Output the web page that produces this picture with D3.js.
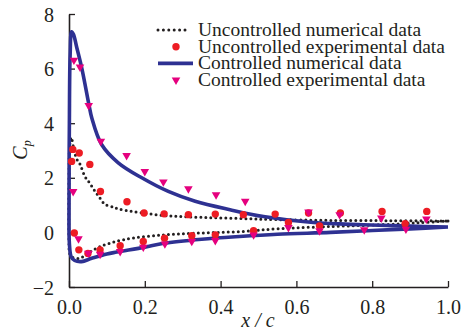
<!DOCTYPE html>
<html>
<head>
<meta charset="utf-8">
<script src="https://cdn.jsdelivr.net/npm/d3@7"></script>
<style>
  html, body { margin: 0; padding: 0; background: #fff; }
  svg { display: block; }
  text { font-family: "Liberation Serif", "Times New Roman", serif; fill: #231f20; }
</style>
</head>
<body>
<svg id="chart" width="471" height="335"></svg>
<script>
// Pressure coefficient along the chord, [x/c, Cp]
const uncNumUpper = [[0.0,0.5],[0.0,2.0],[0.002,3.2],[0.006,3.48],[0.012,3.1],[0.02,2.7],[0.029,2.5],[0.042,2.05],[0.055,1.8],[0.069,1.5],[0.082,1.25],[0.095,1.03],[0.117,0.92],[0.13,0.86],[0.17,0.76],[0.258,0.61],[0.35,0.55],[0.45,0.51],[0.55,0.47],[0.69,0.44],[0.85,0.43],[1.0,0.42]];
const uncNumLower = [[0.0,-0.3],[0.002,-0.78],[0.01,-0.92],[0.03,-0.94],[0.05,-0.76],[0.082,-0.52],[0.143,-0.27],[0.25,-0.09],[0.35,-0.02],[0.451,0.03],[0.557,0.14],[0.7,0.22],[0.82,0.28],[0.92,0.35],[1.0,0.42]];

const ctrlNumUpper = [[0.001,-0.4],[0.0,1.0],[0.001,4.0],[0.003,6.5],[0.007,7.35],[0.012,7.25],[0.02,6.8],[0.034,6.0],[0.053,4.65],[0.06,4.2],[0.086,3.22],[0.13,2.55],[0.192,2.0],[0.262,1.5],[0.333,1.14],[0.425,0.83],[0.513,0.58],[0.645,0.36],[0.777,0.28],[0.9,0.23],[1.0,0.2]];
const ctrlNumLower = [[0.001,-0.4],[0.006,-0.9],[0.015,-1.03],[0.033,-1.07],[0.06,-0.95],[0.1,-0.79],[0.126,-0.72],[0.2,-0.54],[0.25,-0.4],[0.35,-0.25],[0.45,-0.15],[0.55,-0.07],[0.69,0.0],[0.8,0.07],[0.9,0.13],[1.0,0.2]];

const uncExpUpper = [[0.007,2.6],[0.01,3.04],[0.027,2.91],[0.055,2.49],[0.083,1.5],[0.153,1.12],[0.198,0.71],[0.251,0.68],[0.315,0.65],[0.386,0.67],[0.46,0.65],[0.544,0.67],[0.632,0.71],[0.716,0.71],[0.826,0.77],[0.944,0.77]];
const uncExpLower = [[0.014,-0.02],[0.026,-0.64],[0.05,-0.77],[0.082,-0.64],[0.135,-0.49],[0.196,-0.33],[0.252,-0.21],[0.324,-0.12],[0.386,-0.09],[0.487,0.06],[0.579,0.36],[0.661,0.24],[0.887,0.32]];

const ctrlExpUpper = [[0.011,1.5],[0.013,6.31],[0.029,6.06],[0.052,4.65],[0.084,3.34],[0.152,2.82],[0.2,2.23],[0.249,1.85],[0.315,1.6],[0.388,1.38],[0.465,1.14],[0.632,0.75],[0.714,0.65],[0.824,0.53],[0.943,0.49]];
const ctrlExpLower = [[0.025,-0.23],[0.051,-0.76],[0.082,-0.8],[0.135,-0.7],[0.196,-0.54],[0.253,-0.42],[0.324,-0.33],[0.386,-0.3],[0.487,-0.09],[0.579,0.18],[0.661,0.06],[0.779,0.1],[0.889,0.12]];

const xTicks = [0, 0.2, 0.4, 0.6, 0.8, 1.0];
const yTicks = [-2, 0, 2, 4, 6, 8];
const legendLabels = ["Uncontrolled numerical data", "Uncontrolled experimental data", "Controlled numerical data", "Controlled experimental data"];

const BLUE = "#2e3192", RED = "#ed1c24", MAGENTA = "#e5007e", DARK = "#231f20";

const svg = d3.select("#chart");
const x = d3.scaleLinear().domain([0, 1]).range([69, 448]);
const y = d3.scaleLinear().domain([-2, 8]).range([287, 14]);

// axes: left and bottom only, ticks pointing inward
const xAxis = svg.append("g").attr("transform", `translate(0,${y(-2)})`)
  .call(d3.axisBottom(x).tickValues(xTicks).tickSizeInner(-6).tickSizeOuter(0).tickPadding(13).tickFormat(d3.format(".1f")));
const yAxis = svg.append("g").attr("transform", `translate(${x(0)},0)`)
  .call(d3.axisLeft(y).tickValues(yTicks).tickSizeInner(-6).tickSizeOuter(0).tickPadding(15).tickFormat(d => d < 0 ? "\u2212" + Math.abs(d) : d));
[xAxis, yAxis].forEach(g => {
  g.select(".domain").attr("stroke", DARK).attr("stroke-width", 1.6);
  g.selectAll(".tick line").attr("stroke", DARK).attr("stroke-width", 1.3);
  g.selectAll(".tick text").attr("fill", DARK).style("font-size", "20px").style("font-family", "Liberation Serif, serif");
});
yAxis.selectAll(".tick text").attr("dy", "0.35em");

const loop = (lower, upper) => lower.slice().reverse().concat(upper.slice(1));
const line = d3.line().x(d => x(d[0])).y(d => y(d[1])).curve(d3.curveCatmullRom.alpha(0.5));

// uncontrolled numerical: dotted
svg.append("path").attr("d", line(loop(uncNumLower, uncNumUpper)))
  .attr("fill", "none").attr("stroke", DARK).attr("stroke-width", 3)
  .attr("stroke-linecap", "round").attr("stroke-dasharray", "0 5");

// controlled numerical: thick solid
svg.append("path").attr("d", line(loop(ctrlNumLower, ctrlNumUpper)))
  .attr("fill", "none").attr("stroke", BLUE).attr("stroke-width", 3.6)
  .attr("stroke-linejoin", "round");

// uncontrolled experiments: circles
svg.append("g").selectAll("circle").data(uncExpUpper.concat(uncExpLower)).join("circle")
  .attr("cx", d => x(d[0])).attr("cy", d => y(d[1])).attr("r", 3.7).attr("fill", RED);

// controlled experiments: downward triangles
const tri = d3.symbol().type(d3.symbolTriangle).size(32);
svg.append("g").selectAll("path").data(ctrlExpUpper.concat(ctrlExpLower)).join("path")
  .attr("d", tri).attr("transform", d => `translate(${x(d[0])},${y(d[1])}) rotate(180)`)
  .attr("fill", MAGENTA);

// legend
const lg = svg.append("g");
const rowY = [30, 46.7, 63.4, 80];
lg.append("line").attr("x1", 158).attr("x2", 186).attr("y1", rowY[0]).attr("y2", rowY[0])
  .attr("stroke", DARK).attr("stroke-width", 3).attr("stroke-linecap", "round").attr("stroke-dasharray", "0 5.4");
lg.append("circle").attr("cx", 176).attr("cy", rowY[1]).attr("r", 3.7).attr("fill", RED);
lg.append("line").attr("x1", 158).attr("x2", 193).attr("y1", rowY[2]).attr("y2", rowY[2])
  .attr("stroke", BLUE).attr("stroke-width", 3.6);
lg.append("path").attr("d", tri).attr("transform", `translate(176,${rowY[3]}) rotate(180)`).attr("fill", MAGENTA);
lg.selectAll("text").data(legendLabels).join("text")
  .attr("x", 198).attr("y", (d, i) => rowY[i] + 6)
  .style("font-size", "19.5px").text(d => d);

// axis titles
svg.append("text").attr("x", 258).attr("y", 327).attr("text-anchor", "middle")
  .style("font-size", "20px").style("font-style", "italic").text("x / c");
const yl = svg.append("text").attr("transform", "translate(27,150) rotate(-90)").attr("text-anchor", "middle")
  .style("font-size", "20px").style("font-style", "italic");
yl.append("tspan").text("C");
yl.append("tspan").attr("dy", 4).style("font-size", "12px").text("p");
</script>
</body>
</html>
